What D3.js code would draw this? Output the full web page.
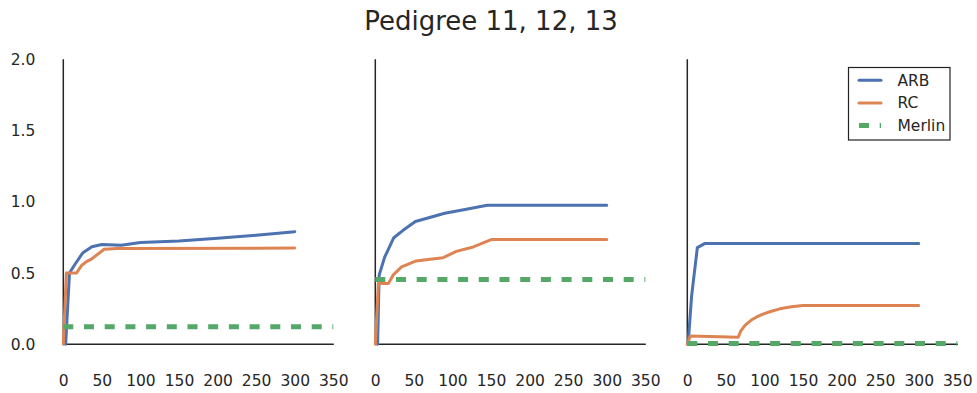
<!DOCTYPE html>
<html>
<head>
<meta charset="utf-8">
<script src="https://cdn.jsdelivr.net/npm/d3@7"></script>
<style>
  body { margin: 0; background: #fff; }
  text { font-family: "DejaVu Sans", sans-serif; fill: #262626; }
</style>
</head>
<body>
<div id="chart"></div>
<script>
const width = 977;
const height = 393;

// x ticks and y ticks
const xTicks = [0, 50, 100, 150, 200, 250, 300, 350];
const yTicks = [0, 0.5, 1.0, 1.5, 2.0];
const seriesNames = ['ARB', 'RC', 'Merlin'];

// panel 1 (pedigree 11)
const arb1 = [[3, 0], [8, 0.5], [15, 0.56], [25, 0.64], [37, 0.685], [50, 0.70], [75, 0.695], [100, 0.715], [150, 0.725], [200, 0.745], [250, 0.765], [300, 0.79]];
const rc1 = [[0, 0], [4, 0.5], [17, 0.5], [24, 0.555], [30, 0.58], [37, 0.60], [53, 0.667], [70, 0.672], [300, 0.675]];
const merlin1 = [[0, 0.123], [350, 0.123]];

// panel 2 (pedigree 12)
const arb2 = [[3, 0], [5, 0.485], [12, 0.61], [24, 0.748], [36, 0.80], [52, 0.862], [90, 0.92], [118, 0.948], [145, 0.976], [300, 0.976]];
const rc2 = [[0, 0], [4, 0.427], [17, 0.427], [23, 0.485], [34, 0.543], [53, 0.585], [71, 0.597], [88, 0.608], [105, 0.652], [127, 0.683], [151, 0.736], [300, 0.736]];
const merlin2 = [[0, 0.455], [350, 0.455]];

// panel 3 (pedigree 13)
const arb3 = [[1, 0], [5.7, 0.345], [13, 0.678], [23, 0.708], [300, 0.708]];
const rc3 = [[0, 0], [4, 0.058], [66, 0.049], [69, 0.09], [75, 0.135], [83, 0.17], [90, 0.192], [98, 0.212], [108, 0.23], [120, 0.249], [135, 0.263], [150, 0.273], [300, 0.273]];
const merlin3 = [[0, 0.005], [350, 0.005]];

const panels = [
    { left: 63.3, series: [arb1, rc1, merlin1] },
    { left: 375.3, series: [arb2, rc2, merlin2] },
    { left: 687.3, series: [arb3, rc3, merlin3] }
];

const colors = ['#4C72B0', '#DD8452', '#55A868'];
const panelWidth = 270;
const plotTop = 59.3;
const plotBottom = 344.3;

const svg = d3.select('#chart')
    .append('svg')
    .attr('width', width)
    .attr('height', height);

svg.append('text')
    .text('Pedigree 11, 12, 13')
    .attr('x', 491)
    .attr('y', 30)
    .attr('text-anchor', 'middle')
    .attr('font-size', '26px');

const yScale = d3.scaleLinear()
    .domain([0, 2])
    .range([plotBottom, plotTop]);

panels.forEach((p, i) => {
    const xScale = d3.scaleLinear()
        .domain([0, 350])
        .range([p.left, p.left + panelWidth]);

    const line = d3.line()
        .x(d => xScale(d[0]))
        .y(d => yScale(d[1]));

    // spines (drawn under the lines)
    svg.append('line')
        .attr('x1', p.left).attr('x2', p.left)
        .attr('y1', plotTop).attr('y2', plotBottom)
        .attr('stroke', '#262626')
        .attr('stroke-width', 1.5);
    svg.append('line')
        .attr('x1', p.left).attr('x2', p.left + panelWidth + 0.5)
        .attr('y1', plotBottom).attr('y2', plotBottom)
        .attr('stroke', '#262626')
        .attr('stroke-width', 1.5);

    // lines
    p.series.forEach((s, j) => {
        svg.append('path')
            .datum(s)
            .attr('d', line)
            .attr('fill', 'none')
            .attr('stroke', colors[j])
            .attr('stroke-width', j === 2 ? 5 : 3)
            .attr('stroke-dasharray', j === 2 ? '10,10.7' : null)
            .attr('stroke-linejoin', 'round')
            .attr('stroke-linecap', j === 2 ? 'butt' : 'round');
    });

    // x axis labels
    const bottomAxis = d3.axisBottom(xScale)
        .tickValues(xTicks)
        .tickSize(0)
        .tickPadding(31)
        .tickFormat(d3.format('d'));
    const gx = svg.append('g')
        .attr('transform', `translate(0, ${plotBottom})`)
        .call(bottomAxis);
    gx.select('.domain').remove();
    gx.selectAll('text')
        .attr('font-size', '15.5px')
        .attr('font-family', '"DejaVu Sans", sans-serif')
        .attr('fill', '#262626');

    if (i === 0) {
        const leftAxis = d3.axisLeft(yScale)
            .tickValues(yTicks)
            .tickSize(0)
            .tickPadding(28)
            .tickFormat(d3.format('.1f'));
        const gy = svg.append('g')
            .attr('transform', `translate(${p.left}, 0)`)
            .call(leftAxis);
        gy.select('.domain').remove();
        gy.selectAll('text')
            .attr('font-size', '15.5px')
            .attr('font-family', '"DejaVu Sans", sans-serif')
            .attr('fill', '#262626');
    }
});

// legend in the last panel
const legendG = svg.append('g')
    .attr('class', 'legend')
    .attr('transform', 'translate(848.5, 67.5)');

legendG.append('rect')
    .attr('width', 101.5)
    .attr('height', 72.5)
    .attr('fill', '#fff')
    .attr('stroke', '#222')
    .attr('stroke-width', 1.2);

legendG.selectAll('.legend-line')
    .data(seriesNames)
    .join('line')
    .attr('class', 'legend-line')
    .attr('x1', 10.5)
    .attr('x2', 32.5)
    .attr('y1', (d, i) => 12.8 + i * 22.6)
    .attr('y2', (d, i) => 12.8 + i * 22.6)
    .attr('stroke', (d, i) => colors[i])
    .attr('stroke-width', (d, i) => i === 2 ? 5 : 3)
    .attr('stroke-dasharray', (d, i) => i === 2 ? '10,10.7' : null)
    .attr('stroke-linecap', (d, i) => i === 2 ? 'butt' : 'round');

legendG.selectAll('.legend-label')
    .data(seriesNames)
    .join('text')
    .attr('class', 'legend-label')
    .attr('x', 49)
    .attr('y', (d, i) => 12.8 + i * 22.6)
    .attr('dy', '0.35em')
    .attr('font-size', '15.5px')
    .text(d => d);
</script>
</body>
</html>
